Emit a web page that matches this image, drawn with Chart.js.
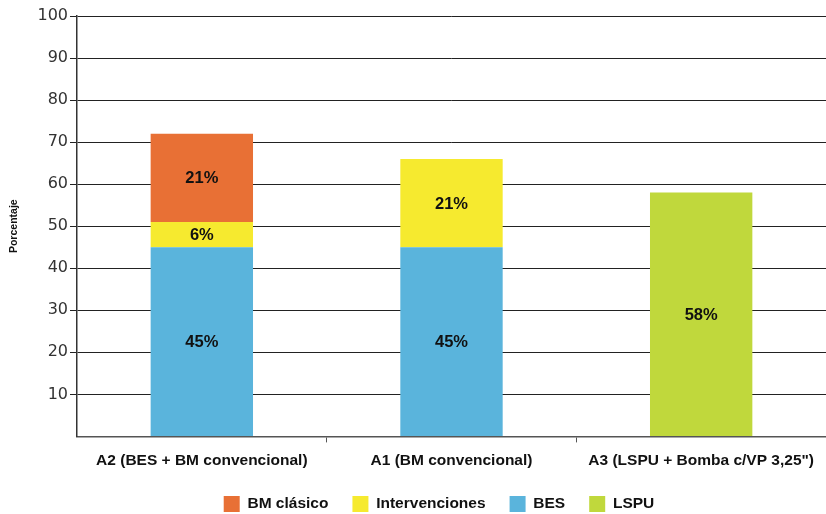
<!DOCTYPE html>
<html>
<head>
<meta charset="utf-8">
<script src="https://cdn.jsdelivr.net/npm/chart.js@4"></script>
<style>
  html, body { margin: 0; padding: 0; background: #fff; }
  #wrap { width: 826px; height: 514px; }
</style>
</head>
<body>
<div id="wrap"><canvas id="grafico"></canvas></div>
<script>
const categorias = ['A2 (BES + BM convencional)', 'A1 (BM convencional)', 'A3 (LSPU + Bomba c/VP 3,25")'];
const bes = [45, 45, null];
const intervenciones = [6, 21, null];
const bmClasico = [21, null, null];
const lspu = [null, null, 58];
const ordenLeyenda = ['BM clásico', 'Intervenciones', 'BES', 'LSPU'];

const fuente = '"Liberation Sans", Arial, sans-serif';

// etiquetas de porcentaje en el centro de cada segmento
const etiquetas = {
    id: 'etiquetas',
    afterDatasetsDraw(chart) {
        const ctx = chart.ctx;
        ctx.save();
        ctx.font = 'bold 16.5px ' + fuente;
        ctx.fillStyle = '#111';
        ctx.textAlign = 'center';
        ctx.textBaseline = 'middle';
        chart.data.datasets.forEach((ds, i) => {
            chart.getDatasetMeta(i).data.forEach((bar, j) => {
                const v = ds.data[j];
                if (v == null) return;
                const p = bar.getProps(['x', 'y', 'base'], true);
                ctx.fillText(v + '%', p.x, (p.y + p.base) / 2 + 1);
            });
        });
        ctx.restore();
    }
};

// la leyenda va un poco a la derecha y más pegada al eje
const moverLeyenda = {
    id: 'moverLeyenda',
    afterLayout(chart) {
        const lg = chart.legend;
        lg.left += 26;
        lg.right += 26;
        lg.top -= 7;
        lg.bottom -= 7;
    }
};

const ctx = document.getElementById('grafico').getContext('2d');
new Chart(ctx, {
    type: 'bar',
    data: {
        labels: categorias,
        datasets: [
            { label: 'BES', data: bes, backgroundColor: '#5AB4DC' },
            { label: 'Intervenciones', data: intervenciones, backgroundColor: '#F6EA2F' },
            { label: 'BM clásico', data: bmClasico, backgroundColor: '#E87035' },
            { label: 'LSPU', data: lspu, backgroundColor: '#C0D83C' }
        ]
    },
    options: {
        responsive: true,
        maintainAspectRatio: false,
        animation: false,
        layout: { padding: { top: 16, right: 0, left: 0, bottom: -15 } },
        datasets: {
            bar: { categoryPercentage: 1, barPercentage: 0.41, skipNull: false }
        },
        scales: {
            x: {
                stacked: true,
                border: { color: '#555', width: 1.5 },
                grid: {
                    offset: true,
                    drawOnChartArea: false,
                    tickLength: 6,
                    color: c => c.index === 0 ? 'rgba(0,0,0,0)' : '#555'
                },
                ticks: {
                    color: '#111',
                    padding: 9,
                    font: { family: fuente, size: 15.5, weight: 'bold' }
                }
            },
            y: {
                stacked: true,
                min: 0,
                max: 100,
                afterFit: scale => { scale.width = 77; },
                border: { color: '#333', width: 1.5 },
                grid: {
                    lineWidth: 1,
                    tickLength: 7,
                    color: c => c.tick.value === 0 ? 'rgba(0,0,0,0)' : '#222'
                },
                ticks: {
                    stepSize: 10,
                    color: '#333',
                    padding: 2,
                    font: { family: '"DejaVu Sans", sans-serif', size: 16 },
                    callback: v => v === 0 ? '' : v
                },
                title: {
                    display: true,
                    text: 'Porcentaje',
                    color: '#111',
                    padding: { top: 8, bottom: 0 },
                    font: { family: fuente, size: 10.5, weight: 'bold' }
                }
            }
        },
        plugins: {
            tooltip: { enabled: false },
            legend: {
                position: 'bottom',
                labels: {
                    boxWidth: 16,
                    boxHeight: 16,
                    padding: 24,
                    color: '#111',
                    font: { family: fuente, size: 15.5, weight: 'bold' },
                    sort: (a, b) => ordenLeyenda.indexOf(a.text) - ordenLeyenda.indexOf(b.text)
                }
            }
        }
    },
    plugins: [etiquetas, moverLeyenda]
});
</script>
</body>
</html>
